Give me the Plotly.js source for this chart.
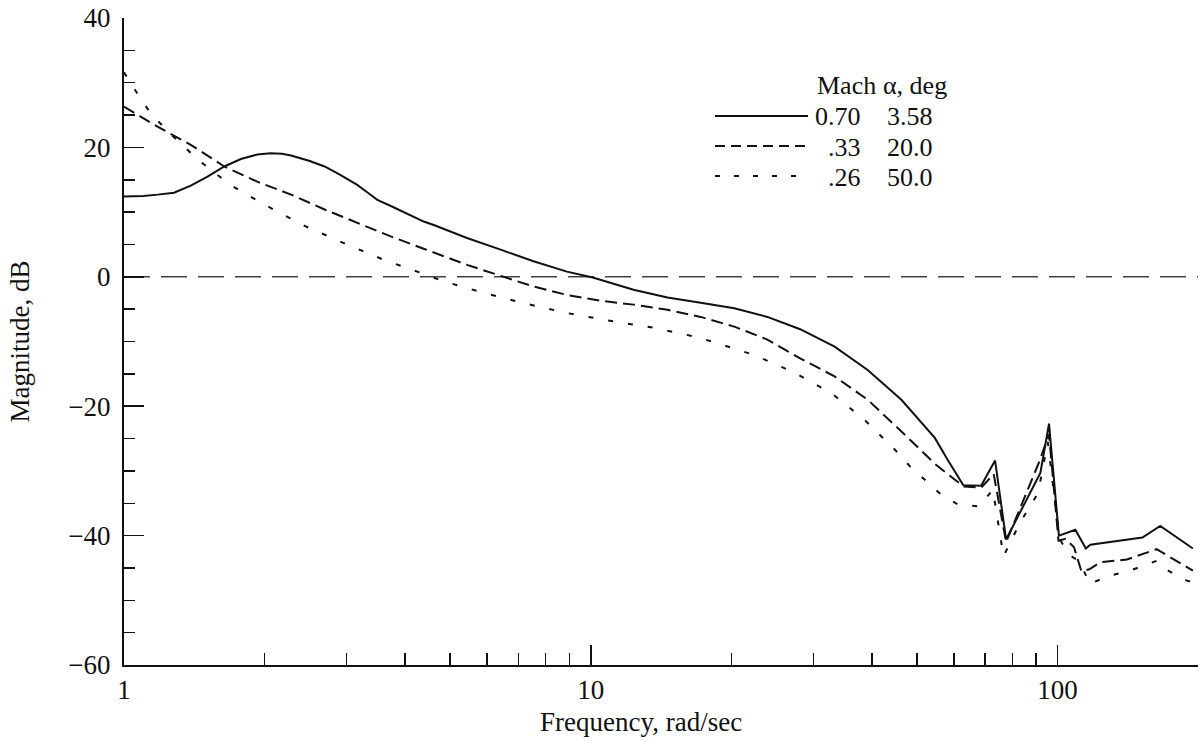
<!DOCTYPE html>
<html>
<head>
<meta charset="utf-8">
<script src="https://cdn.plot.ly/plotly-3.0.1.min.js"></script>
<style>
  html, body { margin: 0; padding: 0; background: #fff; }
  #chart { width: 1204px; height: 741px; }
</style>
</head>
<body>
<div id="chart"></div>
<script>
// ---- Data ----
// Mach 0.70, alpha 3.58 deg (solid)
const freqM070 = [1.0, 1.1, 1.18, 1.28, 1.39, 1.51, 1.64, 1.78, 1.93, 2.06, 2.18, 2.28, 2.5, 2.69, 2.9, 3.16, 3.33, 3.49, 3.74, 4.4, 4.61, 5.43, 6.41, 7.54, 8.89, 10.1, 12.35, 14.6, 17.2, 20.3, 23.9, 28.1, 33.3, 39.2, 46.3, 54.6, 58.2, 62.8, 68.6, 73.5, 77.6, 91.9, 95.9, 100.7, 109.2, 115, 117.6, 152, 166, 195];
const magM070  = [12.4, 12.5, 12.7, 13.0, 14.1, 15.5, 17.05, 18.2, 18.9, 19.1, 19.0, 18.75, 17.9, 17.05, 15.8, 14.2, 13.0, 11.9, 10.9, 8.5, 8.0, 6.0, 4.2, 2.4, 0.8, -0.1, -2.0, -3.2, -4.0, -4.85, -6.2, -8.1, -10.8, -14.4, -19.0, -24.9, -28.3, -32.2, -32.3, -28.4, -40.6, -30.3, -22.7, -40.0, -39.1, -42.0, -41.4, -40.3, -38.5, -42.0];

// Mach .33, alpha 20.0 deg (dashed)
const freqM033 = [1.0, 1.18, 1.39, 1.64, 1.93, 2.28, 2.69, 3.16, 3.74, 4.4, 5.43, 6.41, 7.54, 8.89, 10.5, 12.35, 14.6, 17.2, 20.3, 23.9, 28.1, 33.3, 39.2, 46.3, 54.6, 60.1, 63, 68.6, 73, 77.6, 91.5, 95.9, 100.5, 104, 108.5, 112.5, 117, 123.7, 140.8, 163, 195];
const magM033  = [26.3, 23.2, 20.4, 17.05, 14.7, 12.7, 10.4, 8.3, 6.2, 4.3, 1.85, 0.15, -1.5, -2.8, -3.7, -4.3, -5.1, -6.2, -7.7, -9.7, -12.6, -15.4, -19.0, -23.9, -28.9, -31.3, -32.4, -32.6, -30.5, -41.0, -28.5, -24.3, -40.8, -40.5, -41.8, -45.5, -45.2, -44.1, -43.7, -42.1, -45.4];

// Mach .26, alpha 50.0 deg (dotted)
const freqM026 = [1.0, 1.077, 1.14, 1.24, 1.44, 1.69, 2.03, 2.45, 2.96, 3.61, 4.33, 4.84, 5.91, 7.31, 8.89, 11.0, 13.7, 16.6, 18.4, 22.4, 27.3, 32.8, 38.6, 44.8, 48.3, 56.4, 61.3, 68, 72.7, 76.6, 83, 90.9, 95.3, 101, 106, 110.5, 114, 117, 128, 143, 159, 163, 168, 186, 195];
const magM026  = [31.6, 27.9, 25.3, 22.5, 18.1, 14.2, 10.9, 7.8, 5.2, 2.6, 0.6, -0.7, -2.5, -4.2, -5.6, -6.8, -7.9, -9.2, -10.1, -12.1, -14.8, -18.0, -22.1, -26.7, -29.3, -33.7, -35.2, -35.5, -32.9, -43.2, -38.1, -33.4, -25.5, -40.5, -43.0, -43.8, -45.5, -47.5, -46.3, -45.4, -44.2, -43.9, -44.9, -46.8, -47.2];

// 0 dB reference line
const refFreq = [1, 200];
const refMag = [0, 0];

// Legend table
const legendHeader = ["Mach", "\u03b1, deg"];
const legendMach = ["0.70", ".33", ".26"];
const legendAlpha = ["3.58", "20.0", "50.0"];

// Axis ticks and titles
const xTickVals = [1, 10, 100, 200];
const xTickText = ["1", "10", "100", ""];
const xMinorVals = [2, 3, 4, 5, 6, 7, 8, 9, 20, 30, 40, 50, 60, 70, 80, 90];
const yTickVals = [-60, -40, -20, 0, 20, 40];
const xTitle = "Frequency, rad/sec";
const yTitle = "Magnitude, dB";

// ---- Layout geometry (pixels) ----
const W = 1204, H = 741;
const L = 124, R = 1198, T = 18, B = 665;
const pw = R - L, ph = B - T;
const px = v => (v - L) / pw;       // pixel x -> paper
const py = v => (B - v) / ph;       // pixel y -> paper

const FONT = '"Liberation Serif", "Times New Roman", Times, serif';
const FS = 27;
const LFS = 26;
const BLACK = '#111';

const traces = [
  { x: refFreq, y: refMag, mode: 'lines', line: { color: '#444', width: 1.5, dash: '26px,11px' }, hoverinfo: 'skip' },
  { x: freqM070, y: magM070, mode: 'lines', name: 'Mach 0.70', line: { color: BLACK, width: 2 } },
  { x: freqM033, y: magM033, mode: 'lines', name: 'Mach .33', line: { color: BLACK, width: 2, dash: '12px,6px' } },
  { x: freqM026, y: magM026, mode: 'lines', name: 'Mach .26', line: { color: BLACK, width: 2, dash: '5px,15px' } }
];

const rowsY = [117, 147, 177];
const headerY = 85;
const annotations = [];
const shapes = [];
annotations.push({ xref: 'paper', yref: 'paper', x: px(815), y: py(headerY), xanchor: 'left', yanchor: 'middle', text: legendHeader[0], showarrow: false, font: { family: FONT, size: LFS, color: BLACK } });
annotations.push({ xref: 'paper', yref: 'paper', x: px(881), y: py(headerY), xanchor: 'left', yanchor: 'middle', text: legendHeader[1], showarrow: false, font: { family: FONT, size: LFS, color: BLACK } });
const dashes = ['solid', '10px,6px', '5px,14px'];
for (let i = 0; i < 3; i++) {
  annotations.push({ xref: 'paper', yref: 'paper', x: px(863), y: py(rowsY[i]), xanchor: 'right', yanchor: 'middle', text: legendMach[i], showarrow: false, font: { family: FONT, size: LFS, color: BLACK } });
  annotations.push({ xref: 'paper', yref: 'paper', x: px(935), y: py(rowsY[i]), xanchor: 'right', yanchor: 'middle', text: legendAlpha[i], showarrow: false, font: { family: FONT, size: LFS, color: BLACK } });
  shapes.push({ type: 'line', xref: 'paper', yref: 'paper', x0: px(715), x1: px(808), y0: py(rowsY[i] - 1), y1: py(rowsY[i] - 1), line: { color: BLACK, width: 2, dash: dashes[i] } });
}
// x-axis title (placed as in the reference, slightly left of plot centre)
annotations.push({ xref: 'paper', yref: 'paper', x: px(641), y: py(722), xanchor: 'center', yanchor: 'middle', text: xTitle, showarrow: false, font: { family: FONT, size: FS, color: BLACK } });

const layout = {
  width: W, height: H,
  margin: { l: L, r: W - R, t: T, b: H - B, pad: 0 },
  paper_bgcolor: '#fff', plot_bgcolor: '#fff',
  showlegend: false,
  font: { family: FONT, size: FS, color: BLACK },
  xaxis: {
    type: 'log', range: [0, Math.log10(200)],
    showline: true, linecolor: BLACK, linewidth: 2,
    showgrid: false, zeroline: false,
    ticks: 'inside', ticklen: 20, tickwidth: 1.5, tickcolor: BLACK,
    tickmode: 'array', tickvals: xTickVals, ticktext: xTickText,
    ticklabelstandoff: 0,
    minor: { tickmode: 'array', tickvals: xMinorVals, ticks: 'inside', ticklen: 12, tickwidth: 1.5, tickcolor: BLACK, showgrid: false },
    tickfont: { family: FONT, size: FS, color: BLACK }
  },
  yaxis: {
    range: [-60, 40],
    showline: true, linecolor: BLACK, linewidth: 2,
    showgrid: false, zeroline: false,
    ticks: 'inside', ticklen: 20, tickwidth: 1.5, tickcolor: BLACK,
    tickmode: 'array', tickvals: yTickVals,
    ticklabelstandoff: 6,
    minor: { dtick: 5, ticks: 'inside', ticklen: 11, tickwidth: 1.5, tickcolor: BLACK, showgrid: false },
    tickfont: { family: FONT, size: FS, color: BLACK },
    title: { text: yTitle, font: { family: FONT, size: FS, color: BLACK }, standoff: 31 }
  },
  annotations: annotations,
  shapes: shapes
};

Plotly.newPlot('chart', traces, layout, { staticPlot: true, displayModeBar: false });
</script>
</body>
</html>
